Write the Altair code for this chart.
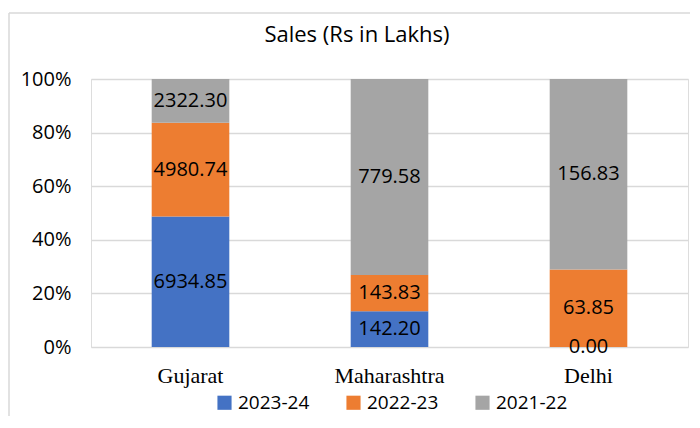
import altair as alt
import pandas as pd

states = ["Gujarat", "Maharashtra", "Delhi"]
years = ["2023-24", "2022-23", "2021-22"]
sales_2023_24 = [6934.85, 142.20, 0.00]
sales_2022_23 = [4980.74, 143.83, 63.85]
sales_2021_22 = [2322.30, 779.58, 156.83]
colors = ["#4472C4", "#ED7D31", "#A5A5A5"]
title_text = "Sales (Rs in Lakhs)"

rows = []
for i, s in enumerate(states):
    for k, (y, vals) in enumerate(zip(years, [sales_2023_24, sales_2022_23, sales_2021_22])):
        rows.append({"state": s, "year": y, "value": vals[i], "order": k})
df = pd.DataFrame(rows)

W, H = 597, 268

base = alt.Chart(df).transform_stack(
    stack="value", groupby=["state"], as_=["y0", "y1"], offset="normalize",
    sort=[alt.SortField("order", order="ascending")]
).transform_calculate(mid="(datum.y0 + datum.y1) / 2")

xenc = alt.X("state:N", sort=states, title=None,
             scale=alt.Scale(paddingInner=0.61, paddingOuter=0.305),
             axis=alt.Axis(labelAngle=0, labelFont="Liberation Serif", labelFontSize=22,
                           labelColor="#000000", labelPadding=18, ticks=False, domain=False,
                           grid=False))

bars = base.mark_bar().encode(
    x=xenc,
    y=alt.Y("y0:Q", scale=alt.Scale(domain=[0, 1]), title=None,
            axis=alt.Axis(format=".0%", values=[0, 0.2, 0.4, 0.6, 0.8, 1.0],
                          labelFont="Open Sans", labelFontSize=20, labelColor="#000000",
                          labelPadding=20, ticks=False, domain=False,
                          grid=True, gridColor="#D9D9D9", gridWidth=1.5)),
    y2="y1:Q",
    color=alt.Color("year:N", sort=years, scale=alt.Scale(domain=years, range=colors),
                    legend=alt.Legend(title=None, orient="none", direction="horizontal",
                                      legendX=124, legendY=314, symbolType="square",
                                      symbolSize=200, symbolStrokeWidth=0,
                                      labelFont="Open Sans", labelFontSize=19,
                                      labelColor="#000000", columnPadding=34,
                                      symbolOpacity=1, padding=0)),
)

labels = base.mark_text(font="Open Sans", fontSize=20, color="#000000").encode(
    x=alt.X("state:N", sort=states),
    y=alt.Y("mid:Q"),
    text=alt.Text("value:Q", format=".2f"),
)

frame = pd.DataFrame({"a": [0]})
top_line = alt.Chart(frame).mark_rule(color="#D9D9D9", strokeWidth=1.5, clip=False).encode(
    x=alt.value(-82), x2=alt.value(620), y=alt.value(-66))
left_line = alt.Chart(frame).mark_rule(color="#D9D9D9", strokeWidth=1.5, clip=False).encode(
    x=alt.value(-82), y=alt.value(-66), y2=alt.value(400))

title = alt.Chart(pd.DataFrame({"t": [title_text]})).mark_text(
    font="Open Sans", fontSize=22, color="#000000", baseline="middle", align="center"
).encode(x=alt.value(266), y=alt.value(-44), text="t:N")

chart = alt.layer(top_line, left_line, bars, labels, title).properties(
    width=W, height=H,
    autosize=alt.AutoSizeParams(type="none"),
    padding={"left": 83, "top": 71, "right": 2, "bottom": 69},
).configure_view(strokeWidth=0).configure(background="#FFFFFF")

chart.save("out.html", embed_options={"renderer": "svg", "actions": False})
